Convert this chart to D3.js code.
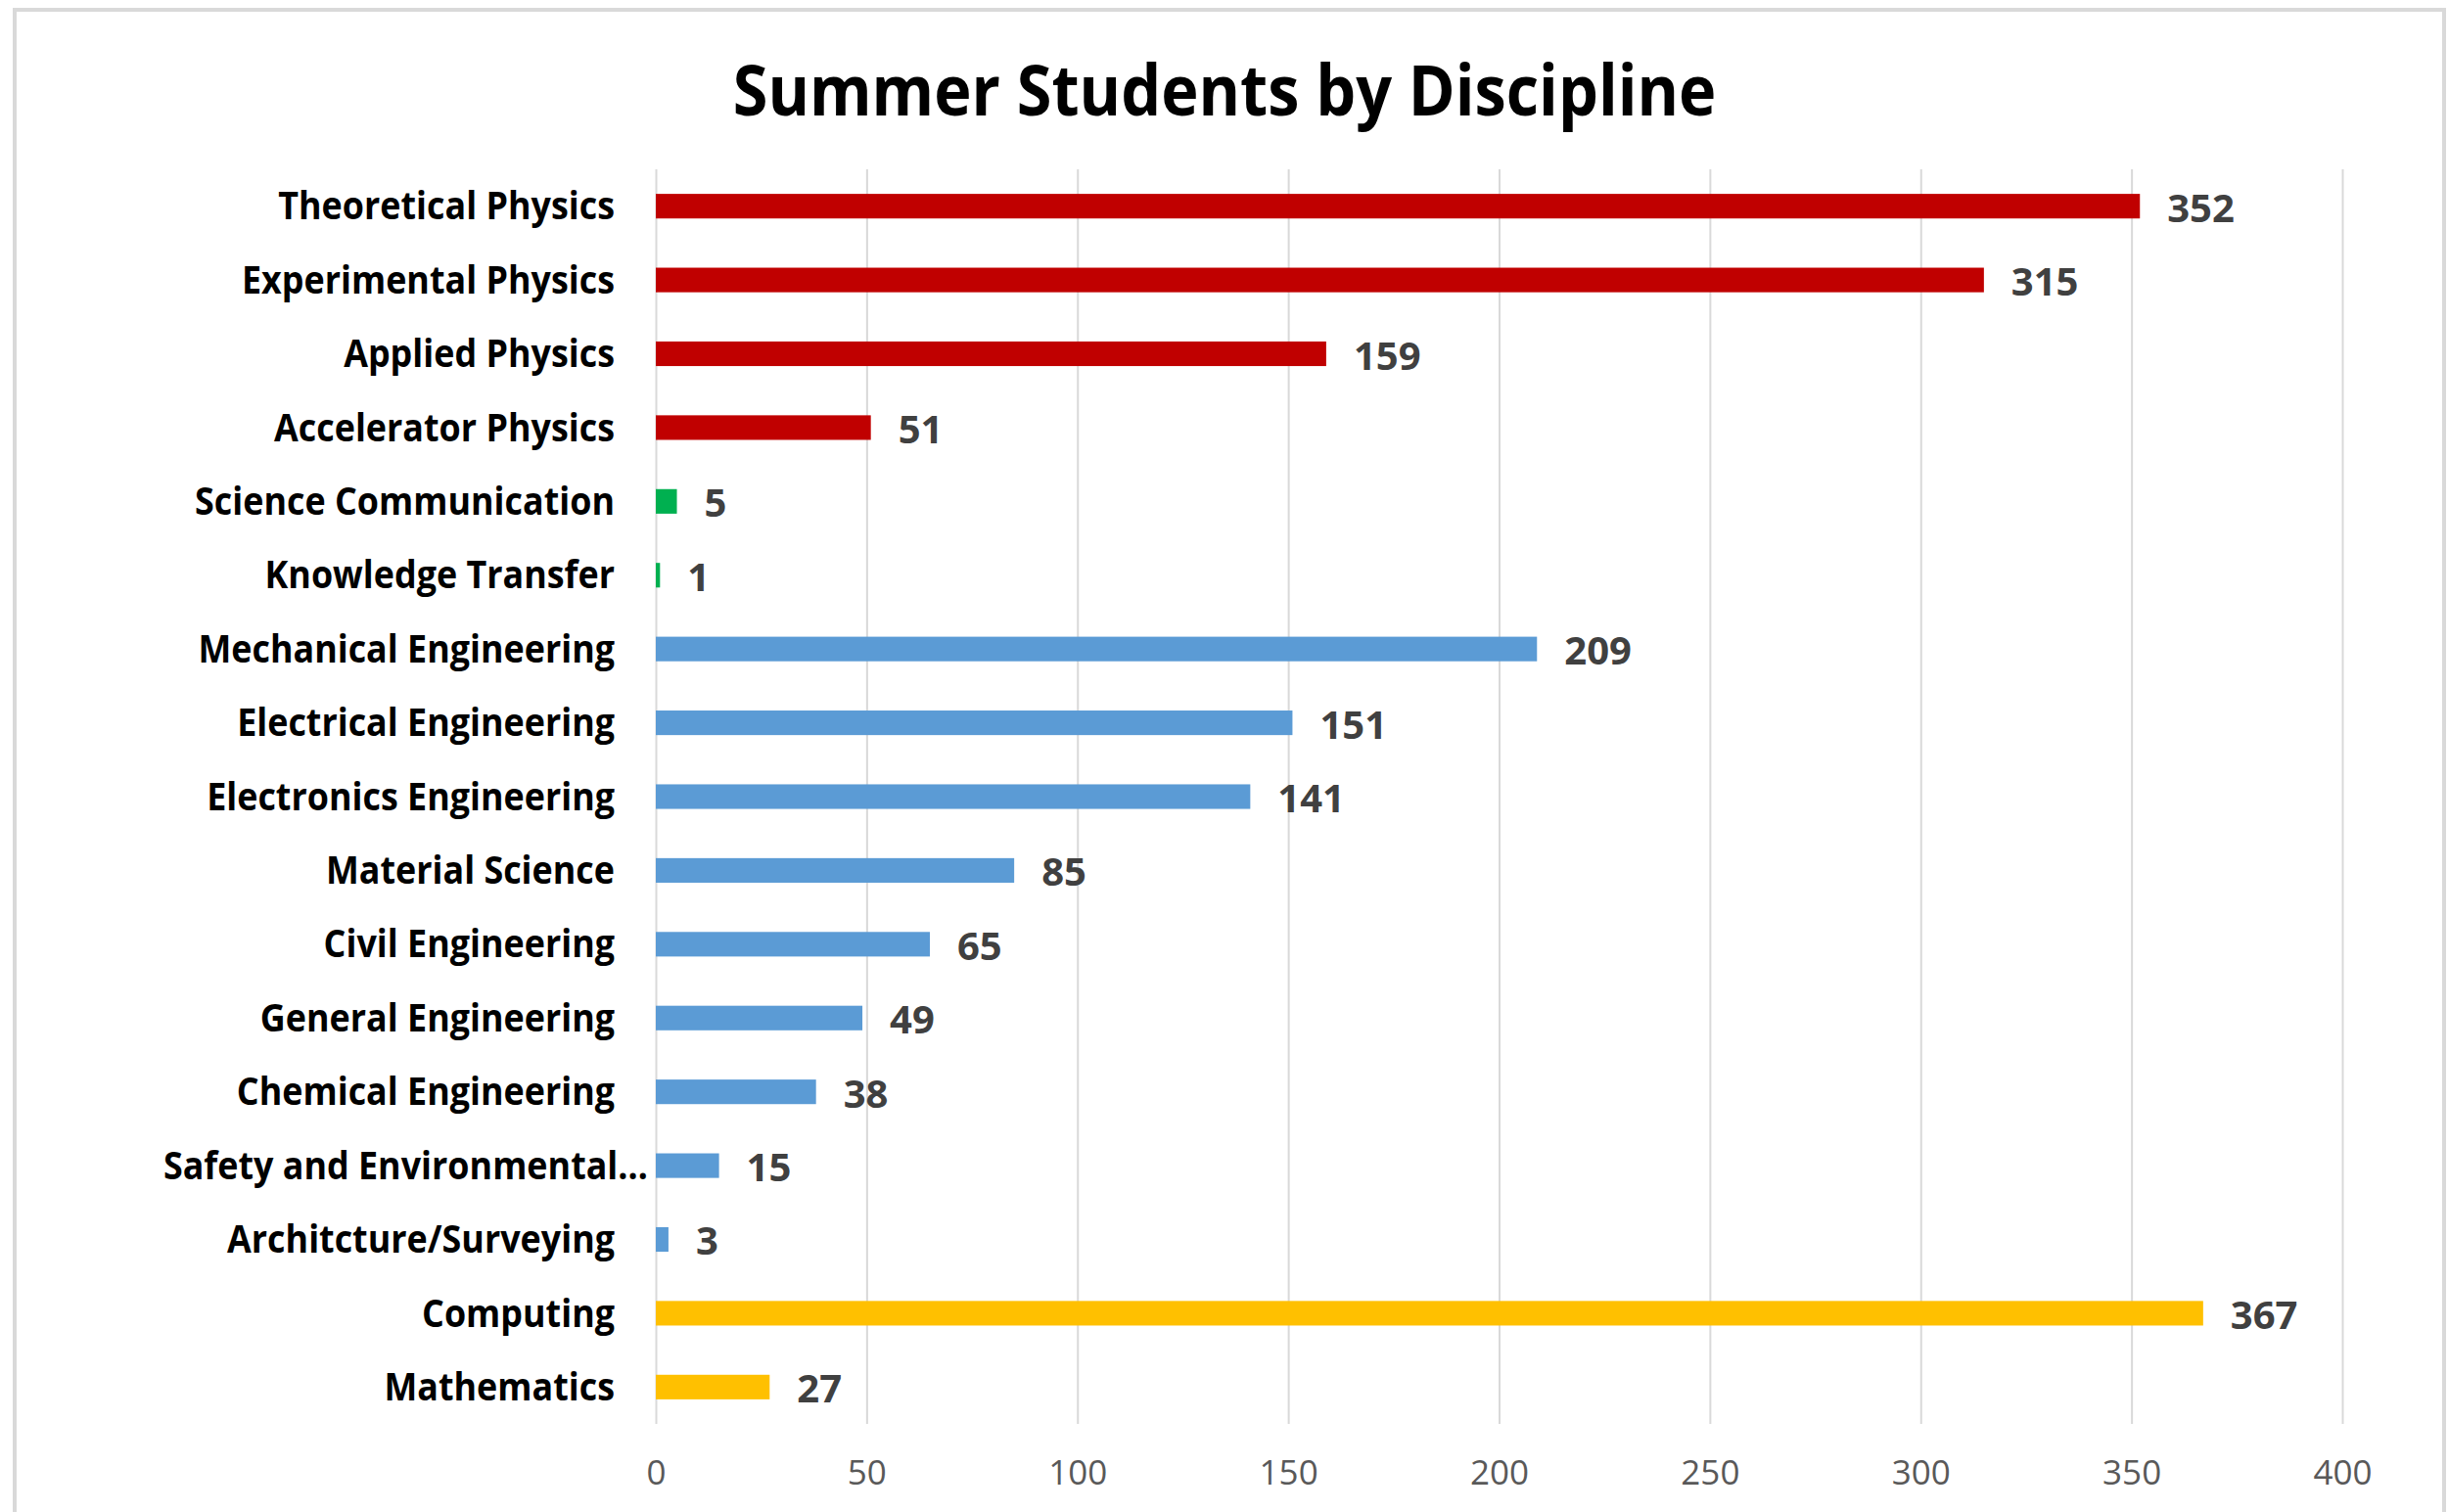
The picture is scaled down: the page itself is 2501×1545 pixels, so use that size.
<!DOCTYPE html>
<html>
<head>
<meta charset="utf-8">
<script src="https://cdn.jsdelivr.net/npm/d3@7"></script>
<style>
  body { margin: 0; background: #fff; }
  svg text { font-family: "Open Sans", "Noto Sans", sans-serif; }
</style>
</head>
<body>
<div class="chart"></div>
<script>
const categories = [
  "Theoretical Physics", "Experimental Physics", "Applied Physics", "Accelerator Physics",
  "Science Communication", "Knowledge Transfer",
  "Mechanical Engineering", "Electrical Engineering", "Electronics Engineering", "Material Science",
  "Civil Engineering", "General Engineering", "Chemical Engineering", "Safety and Environmental…",
  "Architcture/Surveying",
  "Computing", "Mathematics"
];
const students = [352, 315, 159, 51, 5, 1, 209, 151, 141, 85, 65, 49, 38, 15, 3, 367, 27];
const groups = ["physics", "physics", "physics", "physics", "comms", "comms",
  "eng", "eng", "eng", "eng", "eng", "eng", "eng", "eng", "eng", "comp", "comp"];
const xTicks = [0, 50, 100, 150, 200, 250, 300, 350, 400];

const width = 2501, height = 1545;
const margin = {top: 173, left: 670, right: 108, bottom: 90};
const narrow = 0.92; // squeeze Open Sans towards the original's narrower face

const data = categories.map((c, i) => ({name: c, value: students[i], group: groups[i]}));

const colour = d3.scaleOrdinal()
    .domain(["physics", "comms", "eng", "comp"])
    .range(["#C00000", "#00B050", "#5B9BD5", "#FFC000"]);

const svg = d3.select(".chart").append("svg")
    .attr("width", width)
    .attr("height", height)
    .attr("viewBox", [0, 0, width, height]);

// chart frame (bottom edge cut off in the original)
svg.append("rect")
    .attr("x", 15).attr("y", 10)
    .attr("width", 2482).attr("height", 1560)
    .attr("fill", "none")
    .attr("stroke", "#d9d9d9")
    .attr("stroke-width", 4);

const x = d3.scaleLinear()
    .domain([0, 400])
    .range([margin.left, width - margin.right]);

const y = d3.scaleBand()
    .domain(categories)
    .range([margin.top, height - margin.bottom])
    .paddingInner(0.667)
    .paddingOuter(0.333);

svg.append("text")
    .attr("transform", `translate(1251,118) scale(0.9,1)`)
    .attr("text-anchor", "middle")
    .attr("font-size", 72)
    .attr("font-weight", "bold")
    .attr("fill", "#000")
    .text("Summer Students by Discipline");

/* gridlines + tick labels */
const xAxis = svg.append("g")
    .attr("transform", `translate(0,${height - margin.bottom})`)
    .call(d3.axisBottom(x).tickValues(xTicks).tickSize(margin.top - (height - margin.bottom)));

xAxis.select(".domain").remove();
xAxis.selectAll(".tick line").attr("stroke", "#d9d9d9").attr("stroke-width", 2);
xAxis.selectAll(".tick text")
    .attr("font-size", 35)
    .attr("fill", "#595959")
    .attr("y", 50)
    .attr("dy", "0.35em");

/* bars */
svg.append("g")
    .selectAll("rect")
    .data(data)
    .join("rect")
    .attr("x", x(0))
    .attr("y", d => y(d.name))
    .attr("width", d => x(d.value) - x(0))
    .attr("height", y.bandwidth())
    .attr("fill", d => colour(d.group));

/* category labels */
svg.append("g")
    .selectAll("text")
    .data(data)
    .join("text")
    .attr("transform", d => {
        const lx = d.name.endsWith("…") ? 662 : 628;
        return `translate(${lx},${y(d.name) + y.bandwidth() / 2}) scale(${narrow},1)`;
    })
    .attr("dy", "0.35em")
    .attr("text-anchor", "end")
    .attr("font-size", 39)
    .attr("font-weight", "bold")
    .attr("fill", "#000")
    .text(d => d.name);

/* value labels */
svg.append("g")
    .selectAll("text")
    .data(data)
    .join("text")
    .attr("x", d => x(d.value) + 28)
    .attr("y", d => y(d.name) + y.bandwidth() / 2 + 2)
    .attr("dy", "0.35em")
    .attr("font-size", 40)
    .attr("font-weight", "bold")
    .attr("fill", "#404040")
    .text(d => d.value);
</script>
</body>
</html>
